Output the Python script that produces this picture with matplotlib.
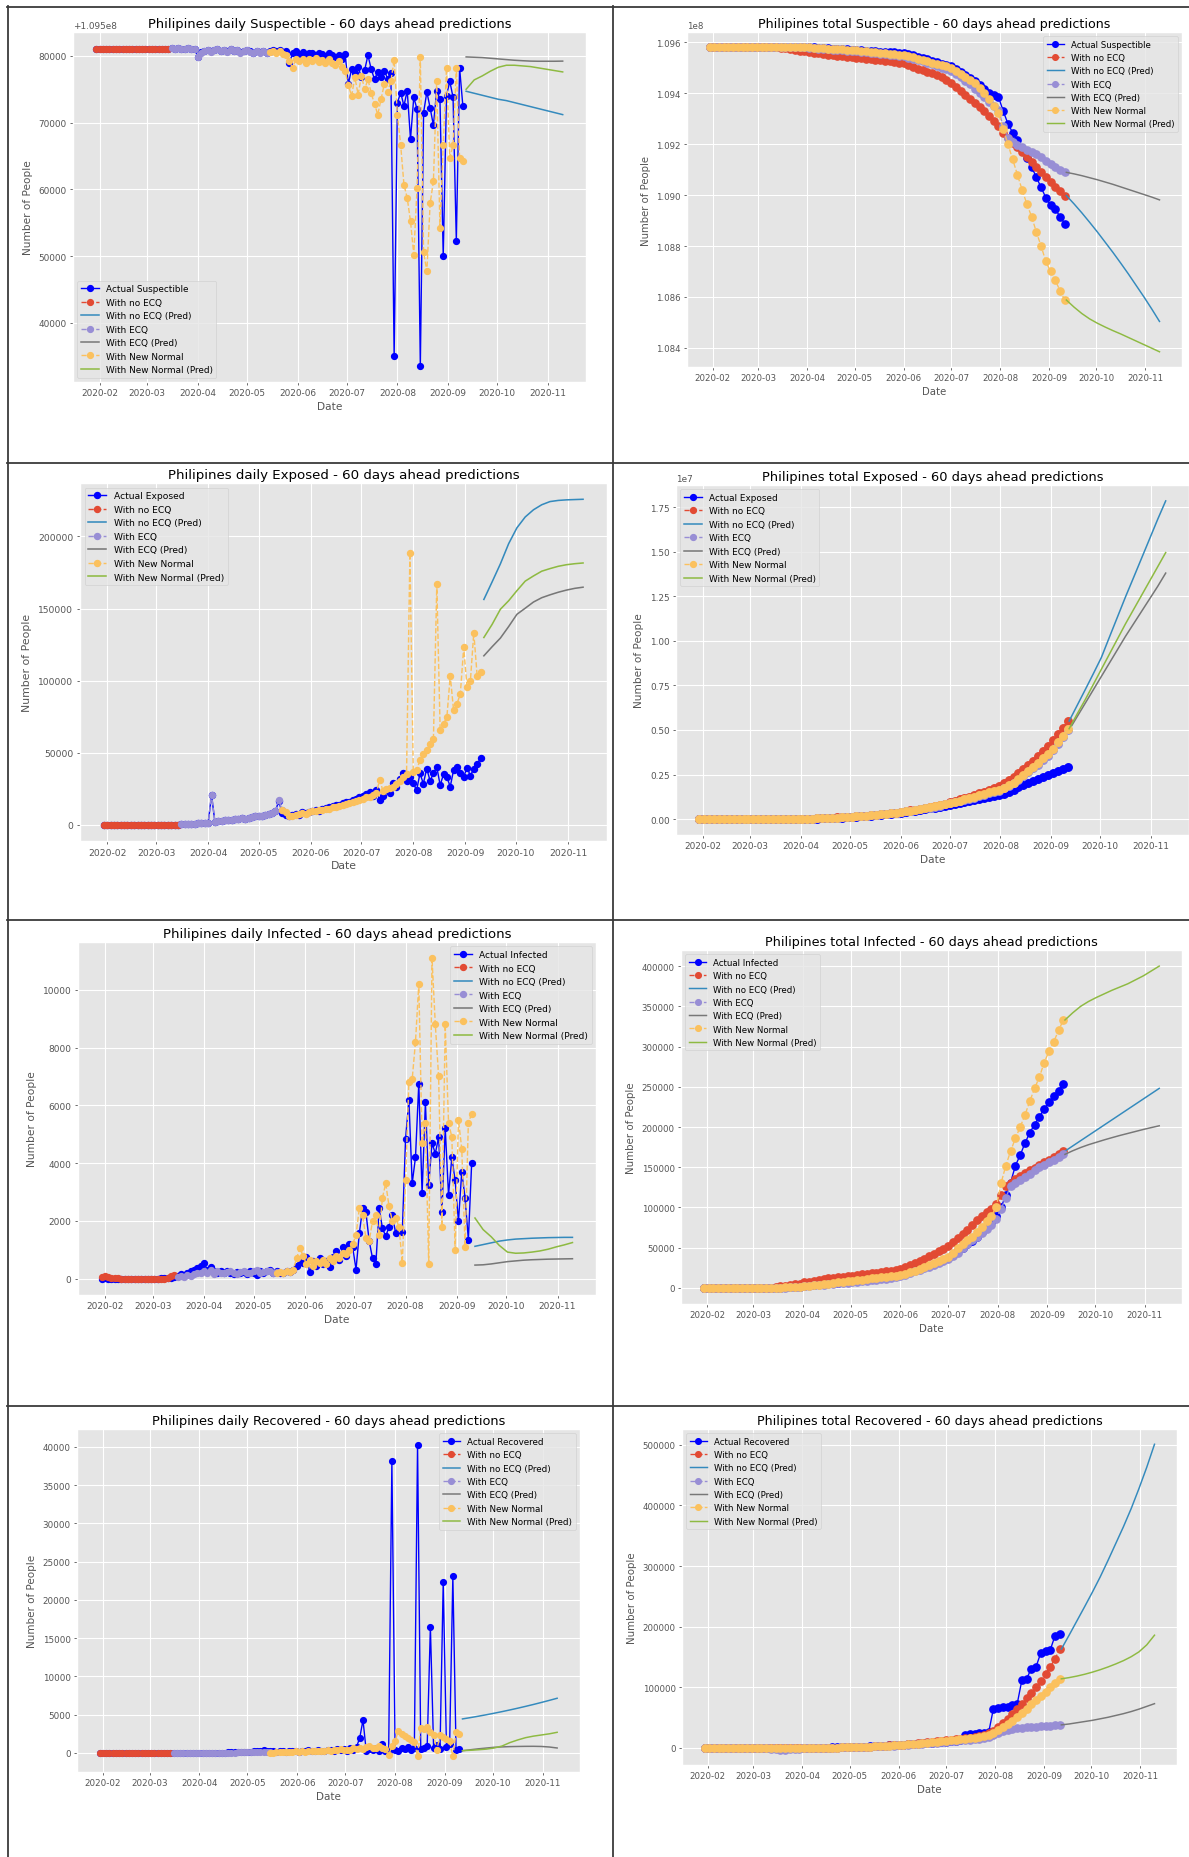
import numpy as np
import pandas as pd
import matplotlib
matplotlib.use('Agg')
import matplotlib.pyplot as plt
import matplotlib.dates as mdates
from matplotlib.ticker import MultipleLocator
from matplotlib.lines import Line2D

plt.style.use('ggplot')

# ---------------- data ----------------
# daily panels: actual/noECQ sampled every 2 days from 2020-01-30, ECQ from day 46, New Normal from day 106
# total panels: every 3 days from 2020-01-30
# predictions: 13 points from 2020-09-12 to 2020-11-10

# Suspectible daily (thousands above 1.095e8)
S_daily_actual = [81.0,81.1,81.0,81.1,81.0,81.0,81.1,81.0,81.0,81.1,81.0,81.0,81.1,81.0,81.0,81.1,81.0,81.0,81.1,81.0,81.0,81.1,81.0,
    81.2,81.1,81.2,81.0,81.1,81.2,81.0,81.1,79.9,80.6,80.8,80.9,80.7,80.9,81.0,80.8,80.9,80.7,81.0,80.8,80.9,80.6,80.8,80.9,80.7,80.5,80.8,80.6,80.7,80.4,
    80.8,80.9,80.7,80.9,80.6,80.8,79.0,80.4,80.7,80.3,80.6,80.2,80.5,80.4,80.1,80.5,80.3,80.0,80.4,80.2,79.9,80.1,79.6,
    80.3,75.8,78.0,77.5,78.3,76.8,77.9,80.1,78.0,76.5,77.6,76.9,77.8,76.6,77.5,35.0,
    73.0,74.5,72.5,74.8,67.5,73.8,72.0,33.5,71.5,74.6,72.2,69.6,74.8,73.5,50.0,74.0,76.2,73.8,52.3,78.2,72.5]
S_daily_noecq = [81.1,81.0,81.1,81.1,81.0,81.1,81.0,81.1,81.1,81.0,81.1,81.0,81.1,81.1,81.0,81.1,81.0,81.1,81.1,81.0,81.1,81.0,81.1]
S_daily_ecq = [81.2,81.1,81.2,81.0,81.1,81.2,81.0,81.1,79.8,80.5,80.8,80.9,80.6,80.9,81.0,80.7,80.9,80.6,81.0,80.8,80.9,80.5,80.8,80.9,80.6,80.5,80.8,80.5,80.7,80.4,80.6]
S_daily_nn = [80.6,80.8,80.5,80.7,80.3,80.1,79.2,78.2,79.6,79.2,79.6,79.0,79.5,79.2,79.7,79.1,79.4,78.9,79.5,79.0,
    78.6,79.2,78.4,77.8,75.6,74.0,76.8,74.2,77.0,75.0,76.5,74.4,72.8,71.2,73.5,75.8,74.6,76.2,79.4,
    71.2,66.6,60.7,58.7,55.2,50.2,60.2,79.8,50.6,47.7,57.9,61.2,76.2,54.2,66.6,78.2,64.7,66.6,78.2,64.7,64.2]
S_daily_pred_noecq = [74.7,74.4,74.1,73.8,73.5,73.3,73.0,72.7,72.4,72.1,71.8,71.5,71.2]
S_daily_pred_ecq = [79.85,79.8,79.75,79.65,79.55,79.45,79.35,79.28,79.22,79.2,79.2,79.2,79.22]
S_daily_pred_nn = [75.0,76.4,77.0,77.7,78.3,78.6,78.6,78.5,78.4,78.2,78.0,77.8,77.6]

# Suspectible total (millions)
S_total_actual = [109.58]*20 + [109.58,109.58,109.579,109.578,109.577,109.576,109.575,109.574,109.573,109.572,
    109.571,109.57,109.568,109.566,109.565,109.564,109.563,109.562,109.561,109.56,
    109.558,109.556,109.552,109.548,109.543,109.538,109.532,109.527,109.521,109.515,
    109.51,109.505,109.495,109.482,109.47,109.46,109.448,109.43,109.415,109.40,
    109.392,109.385,109.33,109.28,109.245,109.215,109.18,109.145,109.11,109.07,
    109.03,108.99,108.96,108.945,108.915,108.888]
S_total_noecq = [109.58]*15 + [109.578,109.576,109.573,109.57,109.567,109.565,109.562,109.559,109.556,109.553,
    109.55,109.548,109.546,109.544,109.542,109.54,109.538,109.536,109.534,109.532,
    109.53,109.528,109.526,109.524,109.522,109.52,109.518,109.51,109.503,109.496,
    109.49,109.484,109.477,109.47,109.462,109.452,109.44,109.425,109.41,109.393,
    109.376,109.36,109.345,109.33,109.31,109.29,109.27,109.245,109.225,109.206,
    109.19,109.17,109.15,109.13,109.11,109.09,109.07,109.05,109.03,109.015,108.998]
S_total_ecq = [109.58]*20 + [109.58,109.578,109.577,109.575,109.574,109.572,109.571,109.57,109.568,109.567,
    109.565,109.564,109.562,109.56,109.558,109.556,109.554,109.552,109.55,109.548,
    109.546,109.544,109.539,109.534,109.529,109.524,109.519,109.513,109.507,109.5,
    109.494,109.487,109.475,109.462,109.448,109.434,109.418,109.4,109.383,109.365,
    109.35,109.335,109.27,109.225,109.21,109.198,109.188,109.178,109.17,109.162,
    109.148,109.134,109.122,109.11,109.099,109.089]
S_total_nn = [109.58]*20 + [109.58,109.579,109.578,109.577,109.576,109.575,109.574,109.573,109.572,109.571,
    109.57,109.569,109.567,109.565,109.563,109.561,109.559,109.557,109.555,109.553,
    109.551,109.549,109.544,109.54,109.535,109.53,109.525,109.52,109.515,109.51,
    109.506,109.5,109.488,109.475,109.462,109.45,109.438,109.42,109.4,109.375,
    109.35,109.32,109.26,109.2,109.14,109.08,109.02,108.965,108.915,108.855,
    108.8,108.74,108.7,108.665,108.625,108.588]
S_total_pred_noecq = [108.998,108.965,108.93,108.893,108.855,108.815,108.775,108.733,108.69,108.645,108.6,108.553,108.504]
S_total_pred_ecq = [109.089,109.083,109.076,109.068,109.06,109.051,109.042,109.032,109.022,109.012,109.002,108.992,108.981]
S_total_pred_nn = [108.588,108.56,108.535,108.514,108.497,108.482,108.468,108.455,108.441,108.427,108.413,108.399,108.385]

# Exposed daily (thousands)
E_daily_actual = [0]*23 + [0.2,0.3,0.5,0.6,0.8,1.0,1.1,1.3,1.5,20.5,2.0,2.4,2.6,3.0,3.2,3.6,4.0,4.3,4.6,4.2,5.0,5.4,5.8,6.0,6.3,6.8,7.5,8.3,9.5,16.5,
    8.0,6.5,6.0,6.5,7.5,7.0,8.5,8.0,9.0,9.5,10.5,9.8,11.0,11.5,12.0,13.0,13.5,14.0,15.0,15.5,
    16.0,17.0,18.0,19.0,20.0,21.0,22.5,20.0,24.0,17.2,20.0,24.0,22.0,28.7,26.0,32.0,36.0,30.0,33.0,28.7,
    24.0,35.6,28.5,39.0,30.5,35.6,40.0,27.5,35.0,33.0,26.4,38.0,40.2,36.0,33.3,39.5,34.0,39.0,42.0,46.0]
E_daily_noecq = [0]*23
E_daily_ecq = [0.2,0.3,0.5,0.6,0.8,1.0,1.1,1.3,1.5,20.8,2.0,2.4,2.6,3.0,3.2,3.6,4.0,4.3,4.6,4.2,5.0,5.4,5.8,6.0,6.3,6.8,7.5,8.3,9.5,17.0,10.0]
E_daily_nn = [10.3,8.5,6.0,5.8,6.9,7.5,8.0,7.2,8.8,9.2,9.5,10.0,10.3,10.8,11.2,12.0,12.6,13.0,13.8,14.5,
    15.3,16.0,16.8,17.2,18.0,19.0,19.5,20.5,22.0,31.0,23.5,24.5,25.5,26.4,28.0,30.0,33.3,35.0,188.5,36.8,
    38.0,44.8,49.4,51.7,56.3,59.8,166.7,65.5,70.1,74.7,103.4,79.3,83.9,90.8,123.0,95.4,100.0,133.3,103.4,105.7]
E_daily_pred_noecq = [156.3,168.5,181,195,206,213.5,218.5,222,224.2,225,225.4,225.6,225.8]
E_daily_pred_ecq = [117.2,123.5,129.5,137.5,146,150.2,154.5,157.5,159.5,161.3,162.8,164,164.8]
E_daily_pred_nn = [129.9,139,149.5,155.4,162.4,169,172.6,175.9,177.7,179.3,180.4,181.1,181.6]

# Exposed total (millions)
E_total_actual = [0]*21 + [0.01,0.015,0.02,0.03,0.04,0.05,0.06,0.07,0.085,0.1,0.115,0.13,0.15,0.17,0.19,0.215,0.24,0.26,0.29,0.32,
    0.35,0.39,0.43,0.47,0.51,0.55,0.6,0.65,0.68,0.72,0.78,0.84,0.9,0.96,1.02,1.07,1.12,1.17,1.22,1.27,
    1.35,1.43,1.53,1.65,1.78,1.9,2.0,2.12,2.23,2.36,2.48,2.6,2.72,2.83,2.93]
E_total_noecq = [0]*16 + [0.002,0.004,0.006,0.008,0.01,0.016,0.022,0.032,0.043,0.054,0.065,0.077,0.09,0.105,0.12,0.137,0.155,0.175,0.197,0.22,
    0.245,0.27,0.3,0.33,0.365,0.4,0.44,0.485,0.53,0.58,0.63,0.685,0.74,0.8,0.87,0.94,1.02,1.1,1.18,1.26,
    1.35,1.44,1.54,1.64,1.74,1.85,2.0,2.17,2.36,2.57,2.8,3.03,3.28,3.54,3.82,4.1,4.42,4.75,5.1,5.5]
E_total_ecq = [0]*16 + [0.002,0.004,0.006,0.008,0.01,0.015,0.02,0.03,0.04,0.05,0.06,0.07,0.085,0.1,0.115,0.13,0.15,0.17,0.19,0.21,
    0.235,0.26,0.29,0.32,0.35,0.39,0.43,0.47,0.51,0.55,0.6,0.65,0.7,0.76,0.82,0.88,0.94,1.0,1.07,1.14,
    1.21,1.29,1.37,1.45,1.53,1.6,1.72,1.86,2.0,2.2,2.4,2.62,2.84,3.06,3.3,3.55,3.85,4.2,4.58,4.98]
E_total_nn = [0]*16 + [0.002,0.004,0.006,0.008,0.01,0.015,0.02,0.03,0.04,0.05,0.06,0.07,0.085,0.1,0.115,0.13,0.15,0.17,0.19,0.21,
    0.235,0.26,0.29,0.32,0.35,0.39,0.43,0.47,0.51,0.56,0.61,0.66,0.71,0.77,0.83,0.89,0.96,1.03,1.1,1.18,
    1.26,1.34,1.42,1.5,1.56,1.63,1.75,1.9,2.05,2.25,2.47,2.7,2.93,3.16,3.4,3.65,3.95,4.3,4.67,5.07]
E_total_pred_noecq = [5.5,6.38,7.26,8.15,9.06,10.2,11.33,12.46,13.54,14.63,15.72,16.81,17.85]
E_total_pred_ecq = [5.0,5.75,6.5,7.25,8.0,8.75,9.5,10.25,10.95,11.65,12.35,13.05,13.8]
E_total_pred_nn = [5.07,5.9,6.7,7.55,8.4,9.25,10.1,10.95,11.75,12.55,13.35,14.15,14.95]

# Infected daily (people)
I_daily_actual = [0,10,0,0,0,0,0,0,0,0,0,0,0,0,0,0,0,0,10,20,30,40,60,
    100,150,80,200,250,300,380,450,540,300,420,250,200,280,180,250,200,150,230,180,220,150,260,200,120,280,190,250,300,180,
    250,200,180,260,220,300,450,650,550,750,230,600,450,700,500,600,400,750,950,650,1100,800,1200,
    1100,310,1570,2430,2300,1290,710,500,2430,1750,1460,1800,2200,1570,1750,1600,
    4850,6200,3300,4200,6750,2950,6100,3240,4700,4330,4900,2320,5200,2900,4200,3400,1980,3700,2800,1350,4000]
I_daily_noecq = [60,80,50,30,20,10,0,0,0,0,0,0,0,0,0,0,0,0,-10,0,40,90,130]
I_daily_ecq = [50,80,60,120,100,150,180,200,250,200,300,150,250,200,180,220,250,200,150,230,280,200,180,250,300,200,220,280,250,200,230]
I_daily_nn = [200,230,180,250,220,300,700,1050,800,500,650,450,600,550,650,500,700,600,800,700,
    900,850,1000,1200,1500,2430,2200,1400,1300,2000,2200,1500,2800,3300,2500,2000,2100,1800,550,
    3400,6800,6900,8200,10200,4700,5400,500,11100,8800,7000,1800,8800,5400,4900,1000,5500,4500,1100,5400,5700]
I_daily_pred_noecq = [1120,1180,1240,1300,1340,1370,1385,1400,1410,1420,1425,1430,1430]
I_daily_pred_ecq = [470,480,510,550,590,615,640,655,665,675,680,685,690]
I_daily_pred_nn = [2100,1700,1450,1150,920,880,890,920,960,1020,1100,1170,1250]

# Infected total (thousands)
I_total_actual = [0]*13 + [0.01,0.05] + [0.14,0.3,0.55,0.8,1.1,1.6,2.3,3.1,3.8,4.4,5.0,5.5,6.0,6.6,7.2,7.8,8.5,9.2,9.8,10.5,
    11.1,11.8,12.5,13.2,14.0,15.5,18.0,19.5,21.0,22.5,24.0,25.5,27.2,29.5,32.0,34.5,37.5,42.0,46.5,50.0,
    54.0,58.0,63.0,70.0,76.0,82.0,90.0,100.0,115.0,131.0,152.0,165.0,180.0,193.0,203.0,213.0,222.0,231.0,238.0,245.0,253.0]
I_total_noecq = [0]*13 + [0.2,0.5,1.0,1.8,2.6,3.4,4.3,5.3,6.8,7.8,8.8,9.8,10.8,11.7,12.5,13.3,14.0,14.7,15.3,16.0,
    16.7,17.4,18.1,18.8,19.6,20.5,21.5,22.5,23.8,25.8,28.0,30.5,33.5,36.5,39.5,42.5,45.5,48.8,52.4,57.0,
    62.0,67.0,72.5,78.0,84.0,90.0,94.0,98.0,104.0,115.0,127.0,131.0,135.0,139.0,142.5,146.0,149.5,153.0,156.0,159.5,
    163.0,166.5,170.0]
I_total_ecq = [0]*15 + [0.1,0.3,0.5,0.8,1.1,1.5,2.0,2.5,3.0,3.5,4.0,4.5,5.0,5.5,6.0,6.6,7.2,7.8,8.4,9.0,
    9.6,10.2,10.9,11.6,12.3,13.0,14.5,16.5,18.5,20.5,22.5,24.5,26.5,28.5,31.0,33.5,36.0,40.0,44.0,49.0,
    54.0,59.0,63.0,68.0,73.0,78.0,86.0,98.0,112.0,127.0,131.0,134.0,138.0,142.0,147.0,150.0,153.0,156.0,159.5,162.5,166.0]
I_total_nn = [0]*15 + [0.1,0.3,0.6,0.9,1.2,1.6,2.0,2.6,3.2,3.8,4.5,5.2,6.0,6.8,7.6,8.4,9.0,9.7,10.4,11.0,
    11.7,12.4,13.1,13.8,14.5,15.0,15.8,17.5,19.5,21.5,24.0,26.5,29.0,31.5,34.0,36.5,39.0,44.0,49.0,54.0,
    59.0,63.0,69.0,76.0,83.0,90.0,100.0,130.0,152.0,170.0,186.0,200.0,215.0,232.0,248.0,262.0,280.0,294.0,306.0,320.0,333.0]
I_total_pred_noecq = [170,176.5,183,189.5,196,202.5,209,215.5,222,228.5,235,241.5,248]
I_total_pred_ecq = [166,170.5,174.5,178,181,184,186.8,189.5,192,194.5,197,199.3,201.5]
I_total_pred_nn = [333,342,350,356,361,365.5,370,374,378,383,388,394,400]

# Recovered daily (people)
R_daily_actual = [0]*23 + [0,0,5,5,10,10,10,20,20,30,30,40,40,50,50,60,60,70,80,80,90,100,120,150,180,200,250,300,350,200,
    200,250,150,300,200,100,300,250,200,150,300,250,400,300,200,350,250,300,400,350,300,500,400,
    500,300,600,400,800,2000,4300,300,500,400,600,300,1200,300,200,38100,
    400,300,700,500,800,400,600,40300,500,700,900,16500,700,1000,500,22300,800,1200,23100,400,500]
R_daily_noecq = [0]*23
R_daily_ecq = [0,0,0,5,5,10,10,15,20,20,25,30,30,35,40,40,45,50,55,60,70,80,90,100,110,120,130,140,150,160,170]
R_daily_nn = [0,50,100,80,120,100,150,100,200,150,200,180,250,200,250,300,250,300,350,300,
    400,350,500,400,450,350,600,500,700,500,800,900,700,600,850,700,500,-300,900,1500,
    2900,2500,2200,2000,1700,1400,-400,3300,3100,3400,2800,2400,400,2300,2100,1800,1500,-450,2700,2500]
R_daily_pred_noecq = [4450,4620,4800,4990,5190,5400,5620,5850,6090,6340,6600,6870,7150]
R_daily_pred_ecq = [300,420,540,640,740,790,830,850,865,870,850,780,650]
R_daily_pred_nn = [300,350,420,500,650,900,1350,1700,2000,2200,2350,2500,2700]

# Recovered total (thousands)
R_total_actual = [0]*21 + [0.05,0.1,0.2,0.3,0.4,0.5,0.7,0.9,1.1,1.3,1.5,1.8,2.0,2.3,2.6,3.0,3.3,3.6,4.0,4.5,
    5.0,5.5,6.0,6.5,7.0,7.5,8.0,8.5,9.0,9.5,10.0,10.8,11.5,12.5,22.0,22.5,23.0,24.0,25.0,26.0,
    65.0,66.0,67.0,68.0,70.0,72.0,112.0,114.0,131.0,134.0,157.0,160.0,162.0,185.0,188.0]
R_total_noecq = [0]*21 + [0.05,0.1,0.15,0.2,0.3,0.4,0.5,0.6,0.8,1.0,1.2,1.4,1.7,2.0,2.3,2.7,3.1,3.5,4.0,4.5,
    5.0,5.6,6.2,6.8,7.5,8.2,9.0,9.8,10.6,11.5,12.4,13.3,14.2,15.2,16.0,17.0,18.0,19.0,21.0,24.0,
    28.0,34.0,41.0,48.0,56.0,64.0,73.0,82.0,91.0,101.0,111.0,122.0,134.0,147.0,163.0]
R_total_ecq = [0]*14 + [-1.0,-2.5,-3.0,-3.0,-2.5,-2.0,-1.0,-0.5,0,0.1,0.2,0.3,0.4,0.5,0.6,0.8,1.0,1.2,1.4,1.6,
    1.9,2.2,2.5,2.8,3.1,3.5,3.9,4.3,4.8,5.3,5.8,6.4,7.0,7.6,8.2,8.9,9.6,10.3,11.0,11.7,
    12.4,13.1,13.8,14.6,15.5,16.5,18.0,21.0,25.0,28.0,30.0,31.5,32.5,33.3,34.0,34.6,35.2,35.7,36.2,36.7,37.2,37.8]
R_total_nn = [0]*21 + [0.05,0.1,0.15,0.2,0.3,0.4,0.5,0.6,0.8,1.0,1.2,1.4,1.6,1.9,2.2,2.5,2.9,3.3,3.7,4.2,
    4.7,5.2,5.8,6.4,7.0,7.7,8.4,9.2,10.0,10.8,11.5,12.3,13.1,14.0,15.0,16.0,17.0,18.0,19.0,20.5,
    24.0,29.0,34.0,39.0,45.0,51.0,58.0,65.0,72.0,79.0,86.0,93.0,101.0,107.0,114.0]
R_total_pred_noecq = [163,186,209.5,233,257,282,309,337,365,395,428,463,501]
R_total_pred_ecq = [38,39.5,41.5,43.5,45.5,48,50.5,53.5,56.5,60,64,68.5,73]
R_total_pred_nn = [114,116,118.5,121.5,125,129,133.5,138.5,144,150.5,158.5,170,186]

# ---------------- drawing ----------------
W, H = 1189, 1858
T0 = pd.Timestamp('2020-01-30')
PRED_DATES = pd.date_range('2020-09-12', '2020-11-10', periods=13)
DAILY_STARTS = (0, 0, 46, 106)
C_NOECQ, C_NOECQ_P, C_ECQ, C_ECQ_P, C_NN, C_NN_P = '#E24A33', '#348ABD', '#988ED5', '#777777', '#FBC15E', '#8EBA42'


def gdates(start, n, step):
    return T0 + pd.to_timedelta(start + step * np.arange(n), unit='D')


fig = plt.figure(figsize=(W / 100, H / 100), dpi=100)


def draw(box, s, title, name, kind, series, preds, scale, offset, ystep, loc):
    x0, x1, y0, y1 = box
    ax = fig.add_axes([x0 / W, 1 - y1 / H, (x1 - x0) / W, (y1 - y0) / H])
    step = 2 if kind == 'daily' else 3
    starts = DAILY_STARTS if kind == 'daily' else (0, 0, 0, 0)
    act, noecq, ecq, nn = [np.asarray(v, float) * scale + offset for v in series]
    p_noecq, p_ecq, p_nn = [np.asarray(v, float) * scale + offset for v in preds]
    ms = (4.2 if kind == 'daily' else 5.4) * s
    lw = 1.0 * s
    ax.plot(gdates(starts[0], len(act), step), act, 'o-', color='blue', ms=ms, lw=lw, label='Actual ' + name)
    ax.plot(gdates(starts[1], len(noecq), step), noecq, 'o--', color=C_NOECQ, ms=ms, lw=lw, label='With no ECQ')
    ax.plot(PRED_DATES, p_noecq, '-', color=C_NOECQ_P, lw=1.1 * s, label='With no ECQ (Pred)')
    ax.plot(gdates(starts[2], len(ecq), step), ecq, 'o--', color=C_ECQ, ms=ms, lw=lw, label='With ECQ')
    ax.plot(PRED_DATES, p_ecq, '-', color=C_ECQ_P, lw=1.1 * s, label='With ECQ (Pred)')
    ax.plot(gdates(starts[3], len(nn), step), nn, 'o--', color=C_NN, ms=ms, lw=lw, label='With New Normal')
    ax.plot(PRED_DATES, p_nn, '-', color=C_NN_P, lw=1.1 * s, label='With New Normal (Pred)')

    fs = 6.4 * s
    ax.xaxis.set_major_locator(mdates.MonthLocator())
    ax.xaxis.set_major_formatter(mdates.DateFormatter('%Y-%m'))
    ax.yaxis.set_major_locator(MultipleLocator(ystep))
    ax.tick_params(labelsize=fs, length=2.3 * s, width=0.6, pad=2.3 * s)
    ax.yaxis.get_offset_text().set_fontsize(fs)
    ax.grid(True, color='white', lw=0.8 * s)
    ax.set_title(title, fontsize=9.4 * s, pad=3.5 * s)
    ax.set_xlabel('Date', fontsize=7.6 * s, labelpad=2.6 * s)
    ax.set_ylabel('Number of People', fontsize=7.6 * s, labelpad=4 * s)
    ax.legend(loc=loc, fontsize=fs, markerscale=4.2 * s / ms)
    return ax


panels = [
    ((73, 586, 33, 383), 1.0, 'daily', 'Suspectible',
     (S_daily_actual, S_daily_noecq, S_daily_ecq, S_daily_nn),
     (S_daily_pred_noecq, S_daily_pred_ecq, S_daily_pred_nn), 1000, 1.095e8, 10000, 'lower left'),
    ((687, 1182, 33, 368), 0.965, 'total', 'Suspectible',
     (S_total_actual, S_total_noecq, S_total_ecq, S_total_nn),
     (S_total_pred_noecq, S_total_pred_ecq, S_total_pred_nn), 1e6, 0, 200000, 'upper right'),
    ((80, 607, 484, 842), 1.026, 'daily', 'Exposed',
     (E_daily_actual, E_daily_noecq, E_daily_ecq, E_daily_nn),
     (E_daily_pred_noecq, E_daily_pred_ecq, E_daily_pred_nn), 1000, 0, 50000, 'upper left'),
    ((676, 1189, 486, 836), 1.0, 'total', 'Exposed',
     (E_total_actual, E_total_noecq, E_total_ecq, E_total_nn),
     (E_total_pred_noecq, E_total_pred_ecq, E_total_pred_nn), 1e6, 0, 2.5e6, 'upper left'),
    ((78, 596, 943, 1296), 1.012, 'daily', 'Infected',
     (I_daily_actual, I_daily_noecq, I_daily_ecq, I_daily_nn),
     (I_daily_pred_noecq, I_daily_pred_ecq, I_daily_pred_nn), 1, 0, 2000, 'upper right'),
    ((681, 1182, 951, 1305), 0.977, 'total', 'Infected',
     (I_total_actual, I_total_noecq, I_total_ecq, I_total_nn),
     (I_total_pred_noecq, I_total_pred_ecq, I_total_pred_nn), 1000, 0, 50000, 'upper left'),
    ((77, 580, 1430, 1773), 0.984, 'daily', 'Recovered',
     (R_daily_actual, R_daily_noecq, R_daily_ecq, R_daily_nn),
     (R_daily_pred_noecq, R_daily_pred_ecq, R_daily_pred_nn), 1, 0, 5000, 'upper right'),
    ((682, 1177, 1430, 1766), 0.97, 'total', 'Recovered',
     (R_total_actual, R_total_noecq, R_total_ecq, R_total_nn),
     (R_total_pred_noecq, R_total_pred_ecq, R_total_pred_nn), 1000, 0, 100000, 'upper left'),
]

for box, s, kind, name, series, preds, scale, offset, ystep, loc in panels:
    title = 'Philipines %s %s - 60 days ahead predictions' % (kind, name)
    draw(box, s, title, name, kind, series, preds, scale, offset, ystep, loc)

# table-cell borders
def hline(y, xa=7, xb=W):
    fig.add_artist(Line2D([xa / W, xb / W], [1 - y / H, 1 - y / H], transform=fig.transFigure,
                          color='#3a3a3a', lw=1.3))

def vline(x, ya=7, yb=H):
    fig.add_artist(Line2D([x / W, x / W], [1 - ya / H, 1 - yb / H], transform=fig.transFigure,
                          color='#3a3a3a', lw=1.3))

for y in (7.5, 463.5, 920.5, 1406.5):
    hline(y)
for x in (7.5, 613):
    vline(x)

fig.savefig('out.png', dpi=100)
